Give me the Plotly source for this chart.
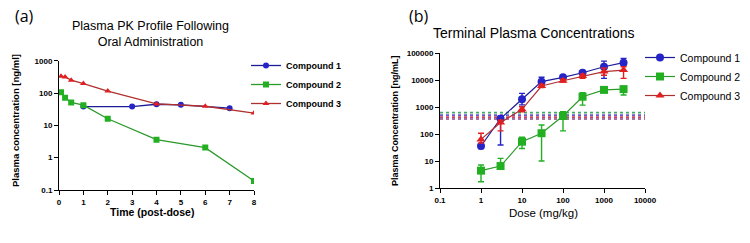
import plotly.graph_objects as go

# ---------- Panel (a) data ----------
time_c1 = [1, 3, 4, 5, 7]
conc_c1 = [38, 38, 45, 43, 34]
time_c2 = [0.083, 0.25, 0.5, 1, 2, 4, 6, 8]
conc_c2 = [105, 72, 51, 42, 16, 3.6, 2.05, 0.19]
time_c3 = [0.083, 0.25, 0.5, 1, 2, 4, 6, 8]
conc_c3 = [330, 315, 250, 197, 115, 46, 39, 24]

# ---------- Panel (b) data ----------
dose = [1, 3, 10, 30, 100, 300, 1000, 3000]
b_c1 = [36, 370, 1940, 8700, 12600, 18600, 31000, 44000]
b_c1_up = [6, 95, 1260, 3900, 1500, 3400, 19000, 19000]
b_c1_dn = [7, 331, 740, 2700, 1200, 2600, 19500, 8000]
b_c2 = [4.4, 6.5, 52, 107, 465, 2400, 4300, 4600]
b_c2_up = [2.7, 6, 24, 108, 205, 1000, 600, 1000]
b_c2_dn = [2.7, 1, 23, 97, 335, 1230, 500, 1800]
b_c3 = [63, 265, 820, 6000, 9400, 14000, 20500, 23400]
b_c3_up = [44, 60, 200, 800, 1200, 2500, 7500, 7600]
b_c3_dn = [17, 135, 150, 800, 1000, 2500, 5500, 11900]
lloq_values = [620, 500, 420, 360]
lloq_colors = ["#44aa66", "#6a5acd", "#cc4466", "#884488"]

time_ticks = [0, 1, 2, 3, 4, 5, 6, 7, 8]
a_yticks = [0.1, 1, 10, 100, 1000]
a_ytext = ["0.1", "1", "10", "100", "1000"]
b_xticks = [0.1, 1, 10, 100, 1000, 10000]
b_xtext = ["0.1", "1", "10", "100", "1000", "10000"]
b_yticks = [1, 10, 100, 1000, 10000, 100000]
b_ytext = ["1", "10", "100", "1000", "10000", "100000"]

names = ["Compound 1", "Compound 2", "Compound 3"]
BLUE, GREEN, RED = "#2424c8", "#22b022", "#e02020"
LBLUE, LGREEN, LRED = "#1c1c9a", "#2a9a2a", "#b03030"

FONT = "Liberation Sans, Arial, sans-serif"

fig = go.Figure()

# Panel (a)
fig.add_trace(go.Scatter(x=time_c1, y=conc_c1, name=names[0], mode="lines+markers",
                         line=dict(color=LBLUE, width=1.3),
                         marker=dict(symbol="circle", size=6, color=BLUE),
                         xaxis="x", yaxis="y", legend="legend"))
fig.add_trace(go.Scatter(x=time_c2, y=conc_c2, name=names[1], mode="lines+markers",
                         line=dict(color=LGREEN, width=1.3),
                         marker=dict(symbol="square", size=6, color=GREEN),
                         xaxis="x", yaxis="y", legend="legend"))
fig.add_trace(go.Scatter(x=time_c3, y=conc_c3, name=names[2], mode="lines+markers",
                         line=dict(color=LRED, width=1.3),
                         marker=dict(symbol="triangle-up", size=6, color=RED),
                         xaxis="x", yaxis="y", legend="legend"))

# Panel (b) reference lines
for v, c in zip(lloq_values, lloq_colors):
    fig.add_trace(go.Scatter(x=[0.1, 10000], y=[v, v], mode="lines",
                             line=dict(color=c, width=1.6, dash="dot"),
                             showlegend=False, hoverinfo="skip",
                             xaxis="x2", yaxis="y2"))

for yv, up, dn, nm, col, lcol, sym in [
    (b_c1, b_c1_up, b_c1_dn, names[0], BLUE, LBLUE, "circle"),
    (b_c2, b_c2_up, b_c2_dn, names[1], GREEN, LGREEN, "square"),
    (b_c3, b_c3_up, b_c3_dn, names[2], RED, LRED, "triangle-up"),
]:
    fig.add_trace(go.Scatter(x=dose, y=yv, name=nm, mode="lines+markers",
                             line=dict(color=lcol, width=1.2),
                             marker=dict(symbol=sym, size=8, color=col),
                             error_y=dict(type="data", symmetric=False, array=up,
                                          arrayminus=dn, color=col, thickness=1.4, width=3),
                             xaxis="x2", yaxis="y2", legend="legend2"))

axis_common = dict(showline=True, linecolor="black", linewidth=1, ticks="outside",
                   ticklen=4, tickcolor="black", showgrid=False, zeroline=False,
                   tickfont=dict(family=FONT, size=8, color="black", weight="bold"))

fig.update_layout(
    width=750, height=243,
    margin=dict(l=0, r=0, t=0, b=0, autoexpand=False),
    paper_bgcolor="white", plot_bgcolor="white",
    font=dict(family=FONT, color="black"),
    xaxis=dict(domain=[59/750, 254/750], range=[0, 8], tickvals=time_ticks,
               anchor="y", **axis_common),
    yaxis=dict(domain=[53/243, 182.3/243], type="log", range=[-1, 3],
               tickvals=a_yticks, ticktext=a_ytext, anchor="x", **axis_common),
    xaxis2=dict(domain=[440/750, 645/750], type="log", range=[-1, 4],
                tickvals=b_xticks, ticktext=b_xtext, anchor="y2", **axis_common),
    yaxis2=dict(domain=[55/243, 190/243], type="log", range=[0, 5],
                tickvals=b_yticks, ticktext=b_ytext, anchor="x2", **axis_common),
    legend=dict(x=246/750, y=1-51/243, xanchor="left", yanchor="top",
                font=dict(family=FONT, size=9, color="black", weight="bold"),
                bgcolor="rgba(0,0,0,0)", tracegroupgap=0, itemwidth=30),
    legend2=dict(x=640/750, y=1-43/243, xanchor="left", yanchor="top",
                 font=dict(family=FONT, size=10.5, color="black"),
                 bgcolor="rgba(0,0,0,0)", tracegroupgap=0, itemwidth=30),
    showlegend=True,
)

ann = [
    dict(text="(a)", x=13/750, y=1-16/243, font=dict(family="Open Sans, sans-serif", size=16)),
    dict(text="(b)", x=407/750, y=1-16/243, font=dict(family="Open Sans, sans-serif", size=16)),
    dict(text="Plasma PK Profile Following<br>Oral Administration", x=150/750, y=1-34/243,
         xanchor="center", font=dict(family=FONT, size=12.5), align="center"),
    dict(text="Terminal Plasma Concentrations", x=534/750, y=1-33/243, xanchor="center",
         font=dict(family=FONT, size=14)),
    dict(text="Time (post-dose)", x=152/750, y=1-212/243, xanchor="center",
         font=dict(family=FONT, size=10.5, weight="bold")),
    dict(text="Dose (mg/kg)", x=543/750, y=1-213/243, xanchor="center",
         font=dict(family=FONT, size=11.5)),
    dict(text="Plasma concentration [ng/ml]", x=15/750, y=1-121/243, xanchor="center",
         textangle=-90, font=dict(family=FONT, size=9.5, weight="bold")),
    dict(text="Plasma Concentration [ng/mL]", x=395/750, y=1-120/243, xanchor="center",
         textangle=-90, font=dict(family=FONT, size=9, weight="bold")),
]
for a in ann:
    a.setdefault("xanchor", "left")
    a.update(xref="paper", yref="paper", yanchor="middle", showarrow=False)
    fig.add_annotation(**a)

fig.write_html("out.html", config={"displayModeBar": False},
               post_script="document.body.style.margin='0';document.body.style.overflow='hidden';")
